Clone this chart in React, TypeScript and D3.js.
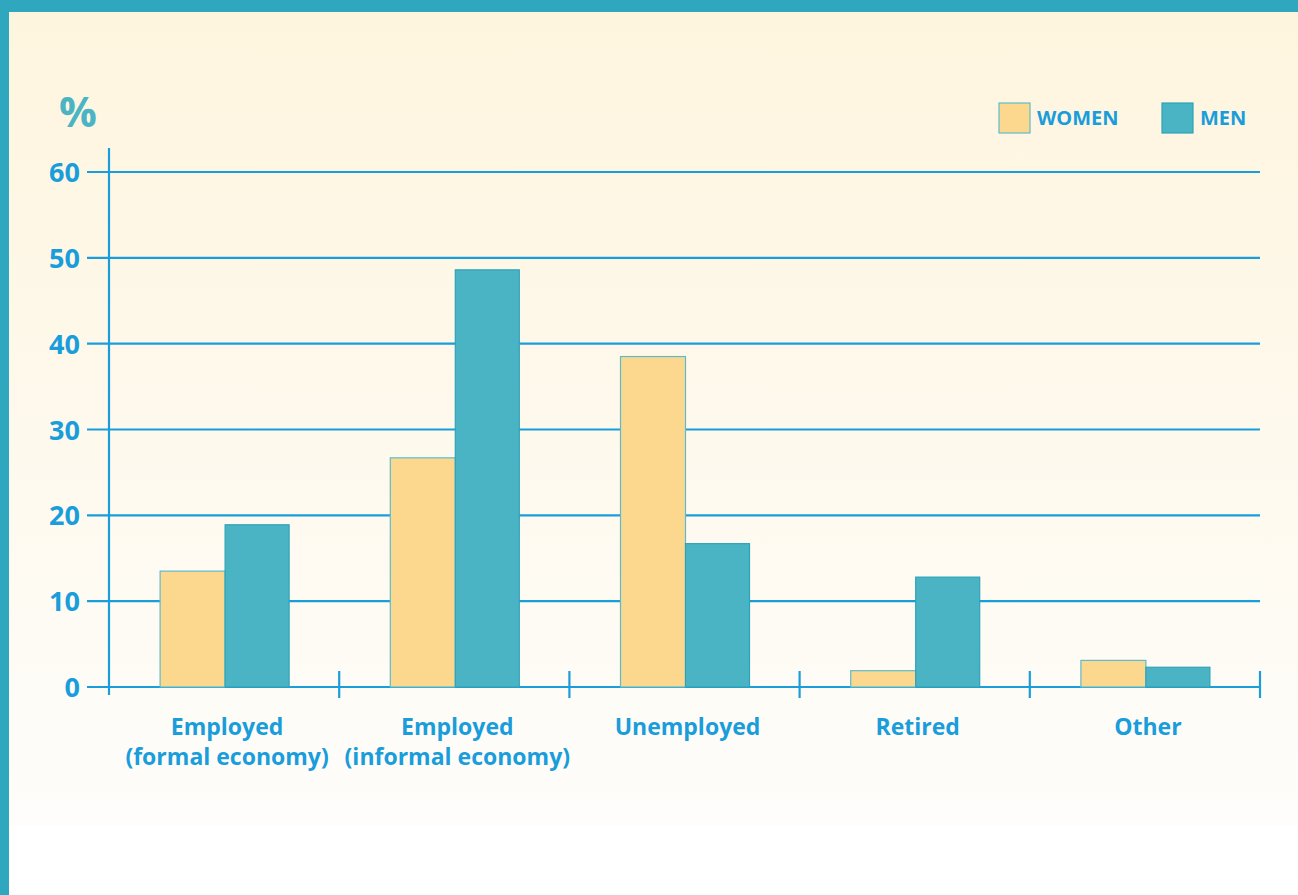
import React from "react";
import * as d3 from "d3";

const categories = ["Employed\n(formal economy)", "Employed\n(informal economy)", "Unemployed", "Retired", "Other"];
const women = [13.5, 26.7, 38.5, 1.9, 3.1];
const men = [18.9, 48.6, 16.7, 12.8, 2.3];
const yTicks = [0, 10, 20, 30, 40, 50, 60];
const seriesNames = ["WOMEN", "MEN"];

const W = 1298, H = 895;
const BLUE = "#1a9ddb";
const WOMEN_FILL = "#fbd88e";
const MEN_FILL = "#4bb4c4";
const FONT = "'Open Sans', 'Noto Sans', sans-serif";

export default function App() {
  const x = d3.scaleBand<string>().domain(categories).range([109, 1260]);
  const y = d3.scaleLinear().domain([0, 60]).range([687, 172]);
  const barW = 65;
  const bounds = categories.map((c) => (x(c) as number) + x.bandwidth());

  return (
    <svg width={W} height={H} style={{ position: "absolute", left: 0, top: 0, display: "block" }}>
      <defs>
        <linearGradient id="bg" x1="0" y1="0" x2="0" y2="1">
          <stop offset="0" stopColor="#fef5de" />
          <stop offset="1" stopColor="#fefdfb" />
        </linearGradient>
      </defs>
      <rect x={0} y={0} width={W} height={H} fill="#ffffff" />
      <rect x={9} y={12} width={W - 9} height={813} fill="url(#bg)" />
      <rect x={0} y={0} width={W} height={12} fill="#2fa8bf" />
      <rect x={0} y={0} width={9} height={H} fill="#2fa8bf" />

      <text x={78} y={127} textAnchor="middle" fontFamily={FONT} fontWeight={700} fontSize={42} fill={MEN_FILL}>%</text>

      {yTicks.map((t) => (
        <g key={t}>
          <line x1={87} x2={1260} y1={y(t)} y2={y(t)} stroke={BLUE} strokeWidth={2.2} />
          <text x={80} y={y(t) + 10} textAnchor="end" fontFamily={FONT} fontWeight={700} fontSize={27} fill={BLUE}>{t}</text>
        </g>
      ))}
      <line x1={109} x2={109} y1={148} y2={695} stroke={BLUE} strokeWidth={2.2} />
      {bounds.map((b, i) => (
        <line key={i} x1={b} x2={b} y1={671} y2={698} stroke={BLUE} strokeWidth={2.2} />
      ))}

      {categories.map((c, i) => {
        const cx = (x(c) as number) + x.bandwidth() / 2 + 1;
        return (
          <g key={c}>
            <rect x={cx - barW} y={y(women[i])} width={barW} height={y(0) - y(women[i])} fill={WOMEN_FILL} stroke="#5cbccc" strokeWidth={1.2} />
            <rect x={cx} y={y(men[i])} width={barW - 1} height={y(0) - y(men[i])} fill={MEN_FILL} stroke="#2ea3b8" strokeWidth={1.2} />
            {c.split("\n").map((line, j) => (
              <text key={j} x={cx + 2} y={735 + j * 30} textAnchor="middle" fontFamily={FONT} fontWeight={700} fontSize={23} fill={BLUE}>{line}</text>
            ))}
          </g>
        );
      })}

      {seriesNames.map((s, i) => {
        const lx = i === 0 ? 999 : 1162;
        return (
          <g key={s}>
            <rect x={lx} y={103} width={31} height={30} fill={i === 0 ? WOMEN_FILL : MEN_FILL} stroke={i === 0 ? "#5cbccc" : "#2ea3b8"} strokeWidth={1.2} />
            <text x={lx + 38} y={125} fontFamily={FONT} fontWeight={700} fontSize={20} fill={BLUE}>{s}</text>
          </g>
        );
      })}
    </svg>
  );
}
